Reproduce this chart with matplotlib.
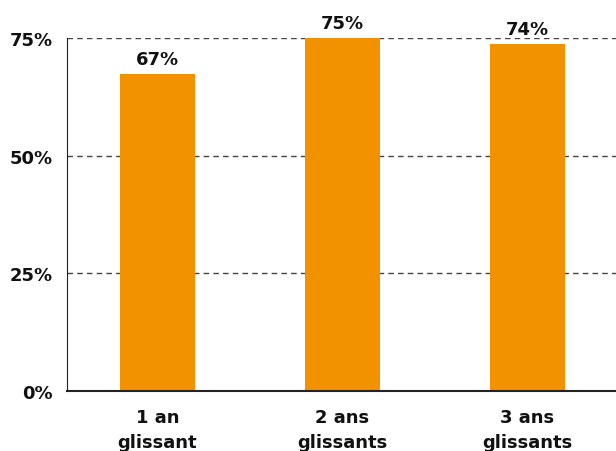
import matplotlib
matplotlib.use("Agg")
import matplotlib.pyplot as plt
from matplotlib.ticker import FuncFormatter

categories = ["1 an\nglissant", "2 ans\nglissants", "3 ans\nglissants"]
values = [67.4, 75.2, 73.8]
labels = ["67%", "75%", "74%"]
yticks = [0, 25, 50, 75]

plt.rcParams['font.family'] = ['DejaVu Sans']

fig = plt.figure(figsize=(6.16, 4.52), dpi=100)
ax = fig.add_axes([67/616, 60/452, 1 - 67/616, (392-39)/452])

x = list(range(len(categories)))
bars = ax.bar(x, values, width=0.405, color="#F39200", zorder=2)
for xi, v, lab in zip(x, values, labels):
    ax.annotate(lab, (xi, v), xytext=(0, 4), textcoords="offset points",
                ha="center", va="bottom", fontsize=13,
                fontweight="bold", color="#111111", annotation_clip=False)

ax.set_xlim(-0.489, 2.478)
ax.set_ylim(0, 75)
ax.set_yticks(yticks)
ax.yaxis.set_major_formatter(FuncFormatter(lambda v, p: f"{int(v)}%"))
ax.set_xticks(x)
ax.set_xticklabels(categories, linespacing=1.5)
for t in ax.get_xticklabels() + ax.get_yticklabels():
    t.set_fontsize(13)
    t.set_fontweight("bold")
    t.set_color("#111111")
ax.tick_params(axis="both", length=0)
ax.tick_params(axis="x", pad=12)
ax.tick_params(axis="y", pad=10)
ax.yaxis.grid(True, linestyle=(0, (4, 3)), color="#444444", linewidth=1, zorder=1)
ax.set_axisbelow(True)
for s in ["top", "right"]:
    ax.spines[s].set_visible(False)
ax.spines["left"].set_color("#222222")
ax.spines["bottom"].set_color("#222222")
ax.spines["bottom"].set_linewidth(1.5)

fig.savefig("out.png", dpi=100)
